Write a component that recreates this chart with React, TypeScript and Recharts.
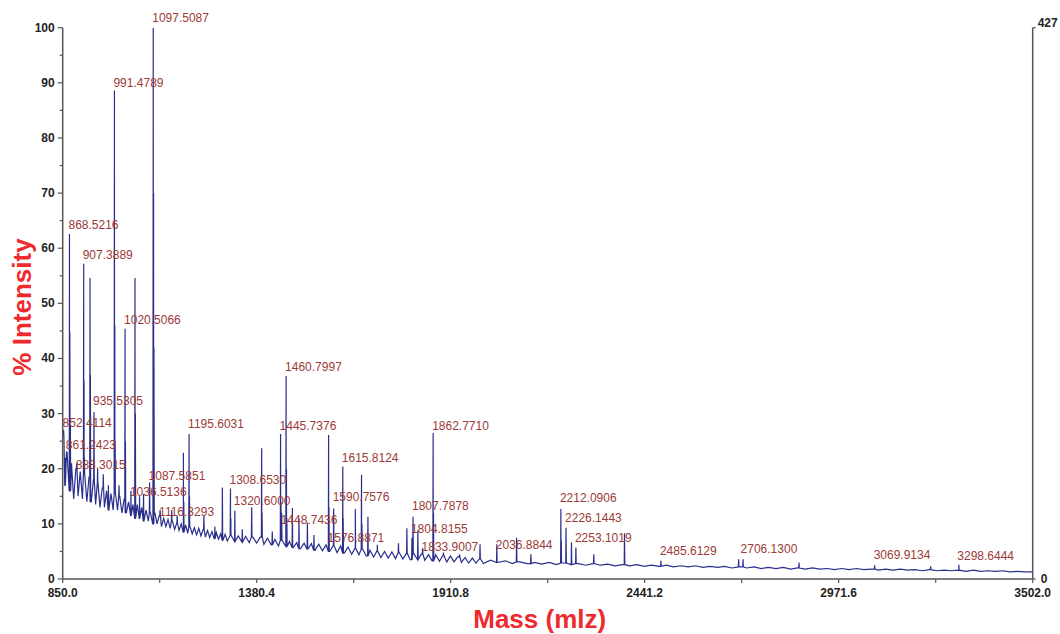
import { ComposedChart, Line, ReferenceDot, XAxis, YAxis } from 'recharts'

// m/z range shown on the x axis
const X_DOMAIN = [850, 3502]
const xMajorTicks = [850.0, 1380.4, 1910.8, 2441.2, 2971.6, 3502.0]
const xMinorTicks = [1115.2, 1645.6, 2176.0, 2706.4, 3236.8]
const yTicks = [0, 5, 10, 15, 20, 25, 30, 35, 40, 45, 50, 55, 60, 65, 70, 75, 80, 85, 90, 95, 100]
const rightTicks = [0, 427]

const baselineLow = [
  26, 17, 23, 16, 21, 14.5, 20, 15, 19.5, 14.5, 19, 14, 18.5, 14, 18, 13.5, 17.5, 13, 16.5, 13,
  16, 12.5, 15.5, 12.5, 15.5, 12.5, 15, 12, 14.5, 12, 14, 11.5, 13.5, 11, 13.5, 11, 13, 10.5, 12.5, 10.5,
  12, 10, 12, 10, 11.5, 9.5, 11, 9.5, 10.8, 9.2, 10.5, 9, 10.2, 8.8, 10, 8.5, 9.8, 8.3, 9.5, 8.2,
  9.3, 8, 9.2, 7.8, 9, 7.6, 8.8, 7.5, 8.6, 7.3, 8.4, 7.2, 8.2, 7, 8.1, 6.9,
]
const baselineMid = [
  7.9, 6.8, 7.8, 6.7, 7.7, 6.6, 7.6, 6.5, 7.6, 6.3, 7.4, 6.2, 7.2, 6.0, 7.0, 5.9, 6.8, 5.7, 6.6, 5.5,
  6.5, 5.4, 6.4, 5.2, 6.3, 5.1, 6.2, 5.0, 6.1, 4.8, 6.0, 4.7, 5.8, 4.5, 5.6, 4.4, 5.4, 4.2, 5.2, 4.0,
  5.1, 3.9, 5.0, 3.8, 4.9, 3.7, 4.8, 3.6, 4.7, 3.5, 4.6, 3.5, 4.5, 3.4, 4.4, 3.3, 4.4, 3.2, 4.3, 3.1,
  4.2, 3.1, 4.0, 3.0, 3.9, 2.9, 3.8, 2.9, 3.7, 2.8,
]
const baselineHigh = [
  3.4, 3.0, 3.3, 2.8, 3.1, 2.8, 3.0, 2.7, 3.0, 2.6, 2.9, 2.6, 2.8, 2.5, 2.8, 2.5, 2.7, 2.4, 2.6, 2.4,
  2.6, 2.3, 2.5, 2.3, 2.5, 2.2, 2.4, 2.2, 2.4, 2.1, 2.3, 2.1, 2.3, 2.0, 2.2, 2.0, 2.2, 1.9, 2.1, 1.9,
  2.1, 1.8, 2.0, 1.8, 2.0, 1.8, 1.9, 1.7, 1.9, 1.7, 1.9, 1.7, 1.8, 1.6, 1.8, 1.6, 1.8, 1.6, 1.7, 1.5,
  1.7, 1.5, 1.6, 1.5, 1.6, 1.4, 1.6, 1.4, 1.5, 1.4, 1.5, 1.3, 1.4, 1.3, 1.3,
]
const baselineStretches = [
  { start: 850, step: 6, values: baselineLow },
  { start: 1310, step: 10, values: baselineMid },
  { start: 2020, step: 20, values: baselineHigh },
]

// [m/z, % intensity] of the visible peaks
const peaks: [number, number][] = [
  [852.4, 27], [856.5, 22], [861.2, 23], [868.5, 62.6], [869.5, 44.7], [871, 28], [888.3, 21],
  [907.4, 57.2], [908.4, 36], [909.4, 22], [924.7, 54.6], [925.7, 37], [935.5, 30.3], [945.5, 20],
  [961, 19], [975, 17], [991.5, 88.6], [992.5, 46], [993.5, 25], [1004, 17], [1020.5, 45.4],
  [1021.5, 25], [1036.5, 16], [1047.7, 54.6], [1048.7, 30], [1060, 15], [1071, 15.4], [1087.6, 17.5],
  [1097.5, 100], [1098.5, 70], [1099.5, 42], [1116.3, 12.5], [1148, 12.5], [1163, 11.5], [1180, 22.9],
  [1181, 14], [1195.6, 26.3], [1196.6, 15], [1236, 11.5], [1266, 9.5], [1286.6, 16.6], [1308.7, 16.4],
  [1309.7, 11], [1320.6, 12.4], [1341, 9], [1366.7, 13], [1394, 23.7], [1395, 12], [1423, 8.6],
  [1445.7, 26.3], [1446.7, 14], [1448.7, 12], [1460.8, 36.8], [1461.8, 20], [1462.8, 11], [1478, 12.9],
  [1496, 11], [1519, 10.2], [1537, 8], [1577, 26.1], [1578, 13], [1590.8, 12.8], [1615.8, 20.4],
  [1616.8, 11], [1650, 12.7], [1667, 18.9], [1668, 10], [1684.5, 11.3], [1710, 6.2], [1768, 6.5],
  [1791, 9.2], [1804.8, 7.5], [1807.8, 11.3], [1821, 8.8], [1833.9, 5.6], [1862.8, 26.5], [1863.8, 12],
  [1891, 4.8], [1935, 4.5], [1991, 6.3], [2036.9, 6.3], [2091, 7.5], [2130, 4.5], [2212.1, 12.7],
  [2213.1, 7], [2226.1, 9.3], [2241, 6.6], [2253.1, 5.7], [2302, 4.5], [2386, 8.3], [2485.6, 3.3],
  [2698, 3.6], [2710, 3.6], [2863, 3.0], [3069.9, 2.5], [3223, 2.3], [3300, 2.6],
]

// peak annotations: [label, intensity level the label sits on]
const peakLabels: [string, number][] = [
  ['1097.5087', 101.1], ['991.4789', 89.3], ['868.5216', 63.4], ['907.3889', 58.1],
  ['1020.5066', 46.2], ['935.5305', 31.5], ['852.4114', 27.5], ['861.2423', 23.5],
  ['888.3015', 19.9], ['1087.5851', 18.0], ['1036.5136', 15.0], ['1116.3293', 11.5],
  ['1195.6031', 27.3], ['1308.6530', 17.3], ['1320.6000', 13.5], ['1460.7997', 37.8],
  ['1445.7376', 27.1], ['1448.7436', 9.9], ['1615.8124', 21.3], ['1590.7576', 14.1],
  ['1576.8871', 6.8], ['1862.7710', 27.1], ['1807.7878', 12.6], ['1804.8155', 8.3],
  ['1833.9007', 5.0], ['2036.8844', 5.4], ['2212.0906', 13.9], ['2226.1443', 10.4],
  ['2253.1019', 6.8], ['2485.6129', 4.3], ['2706.1300', 4.8], ['3069.9134', 3.7],
  ['3298.6444', 3.4],
]

const AXIS = '#555'
const TICK_FONT = "'Liberation Sans', Arial, sans-serif"

type Point = { mass: number; intensity: number }

function buildSpectrum(): Point[] {
  const base: Point[] = []
  for (const s of baselineStretches) {
    s.values.forEach((v, i) => base.push({ mass: s.start + i * s.step, intensity: v }))
  }
  const nearestBase = (m: number) => {
    let best = base[0]
    for (const p of base) {
      if (Math.abs(p.mass - m) < Math.abs(best.mass - m)) best = p
    }
    return best.intensity
  }
  const spikes: Point[] = []
  for (const [m, h] of peaks) {
    const foot = nearestBase(m)
    spikes.push({ mass: m - 0.8, intensity: foot })
    spikes.push({ mass: m, intensity: h })
    spikes.push({ mass: m + 0.8, intensity: foot })
  }
  return [...base, ...spikes].sort((a, b) => a.mass - b.mass)
}

const spectrum = buildSpectrum()

function LeftTick(props: any) {
  const { x, y, payload } = props
  const v = payload.value
  const major = v % 10 === 0
  return (
    <g>
      <line x1={x - (major ? 5 : 3)} x2={x} y1={y} y2={y} stroke={AXIS} strokeWidth={1.2} />
      {major && (
        <text x={x - 8} y={y + 4} textAnchor="end" fontFamily={TICK_FONT} fontWeight="bold" fontSize={12} fill="#222">
          {v}
        </text>
      )}
    </g>
  )
}

function RightTick(props: any) {
  const { x, y, payload } = props
  const top = payload.value !== 0
  return (
    <g>
      <line x1={x} x2={x + 3} y1={y} y2={y} stroke={AXIS} strokeWidth={1.2} />
      <text x={x + (top ? 5 : 8)} y={top ? y - 1 : y + 4} fontFamily={TICK_FONT} fontWeight="bold" fontSize={12} fill="#222">
        {payload.value}
      </text>
    </g>
  )
}

function BottomTick(props: any) {
  const { x, y, payload } = props
  const v = payload.value
  const major = xMajorTicks.some((t) => Math.abs(t - v) < 0.01)
  return (
    <g>
      <line x1={x} x2={x} y1={y} y2={y + 4} stroke={AXIS} strokeWidth={1.2} />
      {major && (
        <text x={x} y={y + 18} textAnchor="middle" fontFamily={TICK_FONT} fontWeight="bold" fontSize={12} fill="#222">
          {v.toFixed(1)}
        </text>
      )}
    </g>
  )
}

export default function App() {
  return (
    <div style={{ width: 1060, height: 634 }}>
      <style>{'body{margin:0;background:#fff}'}</style>
      <ComposedChart
        width={1060}
        height={634}
        data={spectrum}
        margin={{ top: 27.7, right: 0, bottom: 0, left: 0 }}
      >
        <XAxis
          dataKey="mass"
          type="number"
          domain={X_DOMAIN}
          allowDataOverflow
          ticks={[...xMajorTicks, ...xMinorTicks].sort((a, b) => a - b)}
          interval={0}
          height={55}
          tickSize={0}
          tickMargin={0}
          tickLine={false}
          tick={<BottomTick />}
          axisLine={{ stroke: AXIS, strokeWidth: 1.5 }}
          label={({ viewBox }: any) => (
            <text
              x={viewBox.x + viewBox.width / 2 - 8}
              y={viewBox.y + 49}
              textAnchor="middle"
              fontFamily={TICK_FONT}
              fontWeight="bold"
              fontSize={26}
              fill="#ee2a2e"
            >
              Mass (mlz)
            </text>
          )}
        />
        <YAxis
          yAxisId="left"
          type="number"
          domain={[0, 100]}
          allowDataOverflow
          ticks={yTicks}
          interval={0}
          width={62.7}
          tickSize={0}
          tickMargin={0}
          tickLine={false}
          tick={<LeftTick />}
          axisLine={{ stroke: AXIS, strokeWidth: 1.5 }}
          label={() => (
            <text
              x={22}
              y={307}
              transform="rotate(-90, 22, 307)"
              textAnchor="middle"
              dominantBaseline="central"
              fontFamily={TICK_FONT}
              fontWeight="bold"
              fontSize={26}
              fill="#ee2a2e"
            >
              % Intensity
            </text>
          )}
        />
        <YAxis
          yAxisId="right"
          orientation="right"
          type="number"
          domain={[0, 427]}
          allowDataOverflow
          ticks={rightTicks}
          interval={0}
          width={27.3}
          tickSize={0}
          tickMargin={0}
          tickLine={false}
          tick={<RightTick />}
          axisLine={{ stroke: AXIS, strokeWidth: 1.5 }}
        />
        <Line
          yAxisId="left"
          dataKey="intensity"
          type="linear"
          stroke="#2b2f8c"
          strokeWidth={1.2}
          dot={false}
          isAnimationActive={false}
        />
        {peakLabels.map(([text, level]) => (
          <ReferenceDot
            key={text}
            yAxisId="left"
            x={parseFloat(text)}
            y={level}
            r={0}
            ifOverflow="visible"
            shape={(p: any) => (
              <text x={p.cx - 1} y={p.cy} fontFamily={TICK_FONT} fontSize={12} fill="#9b3a36">
                {text}
              </text>
            )}
          />
        ))}
      </ComposedChart>
    </div>
  )
}
